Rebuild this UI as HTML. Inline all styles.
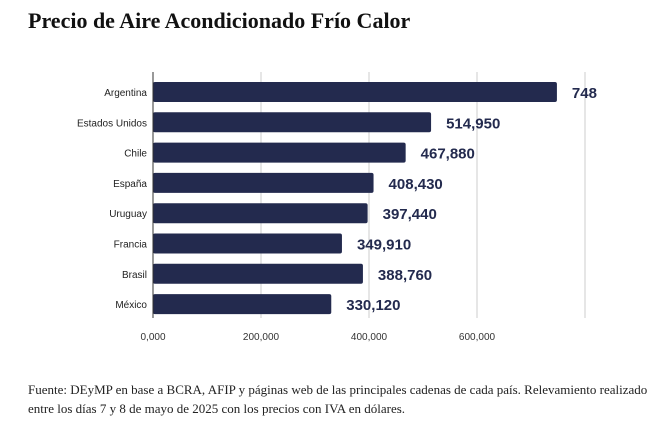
<!DOCTYPE html>
<html><head><meta charset="utf-8"><style>
body{margin:0;background:#fff;width:654px;height:433px;overflow:hidden;position:relative}
.t{position:absolute;left:28px;top:8px;font-family:"Liberation Serif",serif;font-weight:bold;font-size:22px;color:#111}
.f{position:absolute;left:28px;top:380px;font-family:"Liberation Serif",serif;font-size:13px;line-height:19px;color:#222;width:620px}
svg{position:absolute;left:0;top:0}
</style></head><body>
<div class="t">Precio de Aire Acondicionado Frío Calor</div>
<svg width="654" height="433"><g id="g"></g></svg>
<div class="f">Fuente: DEyMP en base a BCRA, AFIP y páginas web de las principales cadenas de cada país. Relevamiento realizado entre los días 7 y 8 de mayo de 2025 con los precios con IVA en dólares.</div>
<script>
const categories=["Argentina","Estados Unidos","Chile","España","Uruguay","Francia","Brasil","México"];
const values=[748000,514950,467880,408430,397440,349910,388760,330120];
const valueLabels=["748","514,950","467,880","408,430","397,440","349,910","388,760","330,120"];
const ticks=[0,200000,400000,600000,800000];
const tickLabels=["0,000","200,000","400,000","600,000",""];
const NS="http://www.w3.org/2000/svg",g=document.getElementById("g");
const x0=153,pxPer=108/200000,top0=77,step=30.3,bh=20;
const X=v=>x0+v*pxPer, Y=i=>top0+i*step;
function mk(t,a){const e=document.createElementNS(NS,t);for(const k in a)e.setAttribute(k,a[k]);g.appendChild(e);return e;}
ticks.forEach((t,i)=>{
 if(i>0){const l=mk("line",{x1:X(t),x2:X(t),y1:72,y2:318,stroke:"#ccc","stroke-width":1});
 
 }
 if(tickLabels[i]){const tx=mk("text",{x:X(t),y:340,"text-anchor":"middle","font-family":"Liberation Sans,sans-serif","font-size":"10",fill:"#333"});tx.textContent=tickLabels[i];
 
 }
});
categories.forEach((c,i)=>{
 const y=Y(i);
 const r=mk("rect",{x:x0,y:y+5,width:X(values[i])-x0,height:bh,rx:2,fill:"#232a4e"});
 
 
 const l=mk("text",{x:147,y:y+19,"text-anchor":"end","font-family":"Liberation Sans,sans-serif","font-size":"10",fill:"#222"});l.textContent=c;
 
 
 const v=mk("text",{x:X(values[i])+15,y:y+21,"font-family":"Liberation Sans,sans-serif","font-size":"15","font-weight":"bold",fill:"#232a4e"});v.textContent=valueLabels[i];
 
 
});
const ax=mk("line",{x1:x0,x2:x0,y1:72,y2:318,stroke:"#333","stroke-width":1});


</script>
</body></html>
